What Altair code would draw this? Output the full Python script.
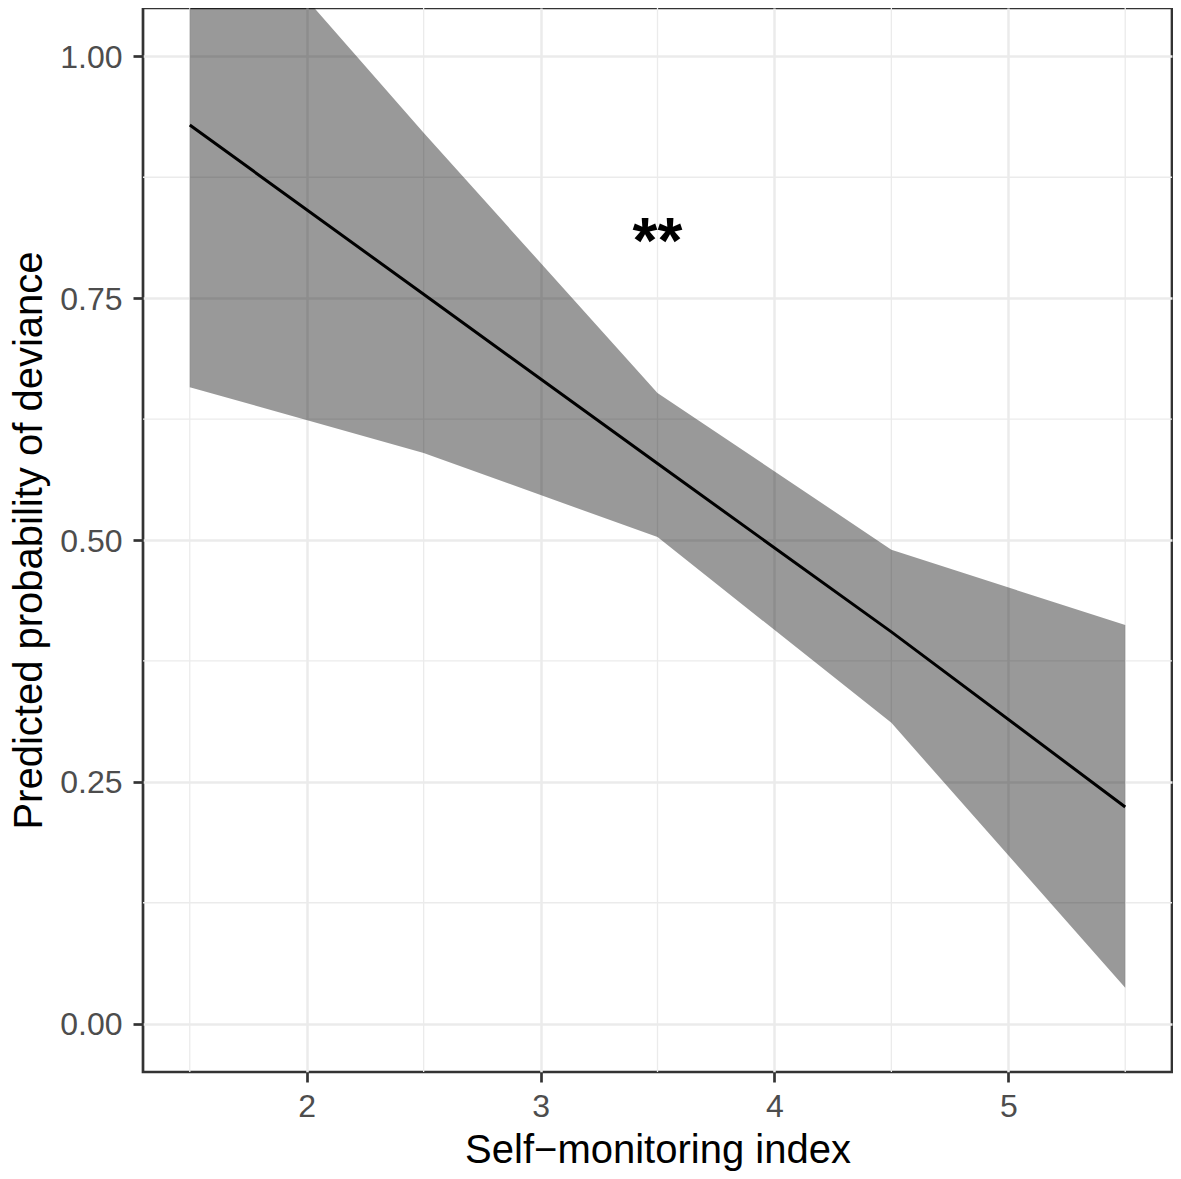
import altair as alt
import pandas as pd

# ---- data ----
x_vals = [1.5, 2.5, 3.5, 4.5, 5.5]
fit_vals = [0.929, 0.754, 0.579, 0.405, 0.224]
lower_vals = [0.658, 0.590, 0.503, 0.311, 0.037]
upper_vals = [1.197, 0.921, 0.652, 0.490, 0.412]

x_major = [2, 3, 4, 5]
y_major = [0.0, 0.25, 0.5, 0.75, 1.0]
x_minor = [1.5, 2.5, 3.5, 4.5, 5.5]
y_minor = [0.125, 0.375, 0.625, 0.875]

annot_x = [3.5]
annot_y = [0.786]
annot_label = ["**"]

x_domain = [1.3, 5.7]
y_domain = [-0.05, 1.05]

x_title = "Self\u2212monitoring index"
y_title = "Predicted probability of deviance"

FONT = "Liberation Sans"

df = pd.DataFrame({"x": x_vals, "fit": fit_vals, "lower": lower_vals, "upper": upper_vals})
df_xminor = pd.DataFrame({"x": x_minor})
df_yminor = pd.DataFrame({"fit": y_minor})
df_annot = pd.DataFrame({"x": annot_x, "fit": annot_y, "label": annot_label})

xs = alt.Scale(domain=x_domain, zero=False, nice=False)
ys = alt.Scale(domain=y_domain, zero=False, nice=False)

xaxis = alt.Axis(
    values=x_major, format="d", title=x_title,
    grid=True, gridColor="#ebebeb", gridWidth=2.5,
    domain=False, ticks=True, tickSize=10, tickWidth=2.7, tickColor="#333333",
    labelFont=FONT, labelFontSize=32, labelColor="#4d4d4d", labelPadding=9,
    titleFont=FONT, titleFontSize=40, titleColor="black", titleFontWeight="normal",
    titleBaseline="alphabetic", titleY=90,
)
yaxis = alt.Axis(
    values=y_major, format=".2f", title=y_title,
    grid=True, gridColor="#ebebeb", gridWidth=2.5,
    domain=False, ticks=True, tickSize=10, tickWidth=2.7, tickColor="#333333",
    labelFont=FONT, labelFontSize=32, labelColor="#4d4d4d", labelPadding=11,
    labelOffset=1,
    titleFont=FONT, titleFontSize=40, titleColor="black", titleFontWeight="normal",
    titleBaseline="alphabetic", titleX=-102, titleAngle=270,
)

X = alt.X("x:Q", scale=xs, axis=xaxis)
Y = alt.Y("fit:Q", scale=ys, axis=yaxis)

vminor = alt.Chart(df_xminor).mark_rule(color="#ebebeb", strokeWidth=1.3).encode(x=X)
hminor = alt.Chart(df_yminor).mark_rule(color="#ebebeb", strokeWidth=1.3).encode(y=Y)

ribbon = alt.Chart(df).mark_area(color="black", opacity=0.4, clip=True).encode(
    x=X, y=alt.Y("lower:Q", scale=ys, axis=yaxis), y2="upper:Q"
)
line = alt.Chart(df).mark_line(color="black", strokeWidth=3, clip=True).encode(x=X, y=Y)
annot = alt.Chart(df_annot).mark_text(
    font=FONT, fontSize=64, fontWeight="bold", color="black",
    align="center", baseline="alphabetic"
).encode(x=X, y=Y, text="label:N")

chart = alt.layer(vminor, hminor, ribbon, line, annot).properties(
    width=1029, height=1064,
    autosize=alt.AutoSizeParams(type="none"),
    padding={"left": 135, "top": 0, "right": 1, "bottom": 99},
    background="white",
).configure_view(stroke="#333333", strokeWidth=2.7)

chart.save("out.html", embed_options={"renderer": "svg", "actions": False})
